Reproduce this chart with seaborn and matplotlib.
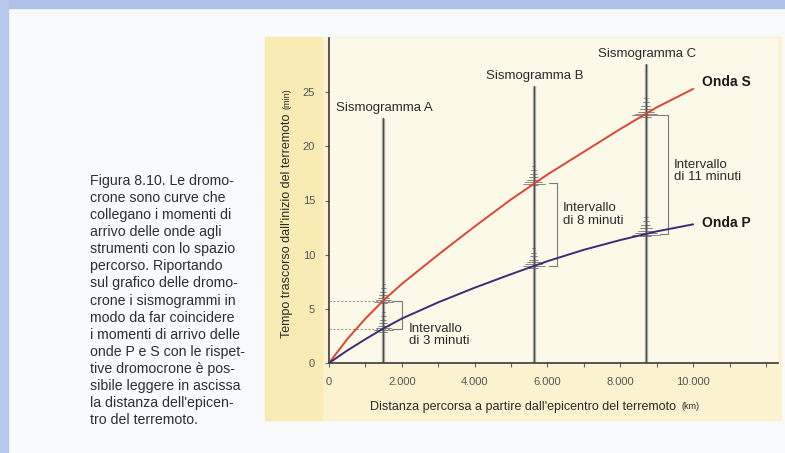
import matplotlib
matplotlib.use("Agg")
import matplotlib.pyplot as plt
import pandas as pd
import seaborn as sns
from matplotlib.patches import Rectangle

# dromocrone (km, minutes)
distance_km = [0, 500, 1000, 1500, 2000, 3000, 4000, 5000, 6000, 7000, 8000, 9000, 10000]
onda_s_min = [0, 2.2, 4.1, 5.8, 7.3, 10.0, 12.6, 15.1, 17.4, 19.5, 21.6, 23.6, 25.3]
onda_p_min = [0, 1.15, 2.2, 3.2, 4.1, 5.6, 6.95, 8.2, 9.4, 10.45, 11.35, 12.15, 12.8]

# seismograms placed on the curves
seismo_names = ["Sismogramma A", "Sismogramma B", "Sismogramma C"]
seismo_km = [1490, 5620, 8700]
seismo_top_min = [22.6, 25.6, 27.6]
p_arrival_min = [3.1, 9.0, 11.9]
s_arrival_min = [5.7, 16.6, 22.9]
interval_labels = ["Intervallo\ndi 3 minuti", "Intervallo\ndi 8 minuti", "Intervallo\ndi 11 minuti"]

x_ticks_km = [0, 2000, 4000, 6000, 8000, 10000]
x_tick_labels = ["0", "2.000", "4.000", "6.000", "8.000", "10.000"]
x_minor_km = [1000, 3000, 5000, 7000, 9000, 11000, 12000]
y_ticks_min = [0, 5, 10, 15, 20, 25]

caption = ("Figura 8.10. Le dromo-\ncrone sono curve che\ncollegano i momenti di\n"
           "arrivo delle onde agli\nstrumenti con lo spazio\npercorso. Riportando\n"
           "sul grafico delle dromo-\ncrone i sismogrammi in\nmodo da far coincidere\n"
           "i momenti di arrivo delle\nonde P e S con le rispet-\ntive dromocrone è pos-\n"
           "sibile leggere in ascissa\nla distanza dell'epicen-\ntro del terremoto.")

# styling
S_COLOR = "#dc4634"
P_COLOR = "#3a2d78"
TRACE = "#5e5e5e"
W, H = 785, 453

sns.set_theme(style="white")
plt.rcParams["font.family"] = ["Liberation Sans", "DejaVu Sans"]

fig = plt.figure(figsize=(W / 100, H / 100), dpi=100, facecolor="#f8fafc")

def fig_rect(x0, y0, x1, y1, color):
    # pixel box (top-left origin) -> figure fraction rectangle
    fig.patches.append(Rectangle((x0 / W, 1 - y1 / H), (x1 - x0) / W, (y1 - y0) / H,
                                 transform=fig.transFigure, color=color, zorder=-5))

fig_rect(0, 0, W, 8, "#aec2e8")
fig_rect(0, 0, 8, H, "#b6c8ea")
fig_rect(265, 37, 781, 420, "#fbf3d0")
fig_rect(265, 37, 322, 420, "#f8ebb4")

ax = fig.add_axes([329 / W, 1 - 363 / H, 449 / W, 325 / H])
ax.set_facecolor("#fdf9e8")

df = pd.DataFrame({
    "km": distance_km * 2,
    "min": onda_s_min + onda_p_min,
    "onda": ["S"] * len(distance_km) + ["P"] * len(distance_km),
})
sns.lineplot(data=df, x="km", y="min", hue="onda", palette={"S": S_COLOR, "P": P_COLOR},
             linewidth=1.4, legend=False, ax=ax, zorder=4)

# seismogram traces with bursts at the arrivals
burst_offsets = [-0.2, -0.05, 0.1, 0.3, 0.55, 0.85, 1.2, 1.6]
burst_halfwidth = [150, 380, 300, 220, 160, 120, 90, 60]
burst_scale = [0.7, 0.8, 1.0]
for i, x in enumerate(seismo_km):
    ax.plot([x, x], [0, seismo_top_min[i]], color="#ababab", lw=2.4, zorder=2, solid_capstyle="butt")
    ax.plot([x, x], [0, seismo_top_min[i]], color="#4a4a4a", lw=0.8, zorder=3)
    for t0 in (p_arrival_min[i], s_arrival_min[i]):
        for off, hw in zip(burst_offsets, burst_halfwidth):
            w = hw * burst_scale[i]
            ax.plot([x - w, x + w], [t0 + off, t0 + off], color=TRACE, lw=0.6, alpha=0.85, zorder=3)
    ax.text(x + 40, seismo_top_min[i] + 0.9, seismo_names[i], ha="center", va="center",
            fontsize=9.5, color="#2a2a2a")

# interval brackets
bracket_km = [2000, 6270, 9310]
text_pos = [(2200, 2.6), (6430, 13.7), (9480, 17.7)]
for i, bx in enumerate(bracket_km):
    top, bot = s_arrival_min[i], p_arrival_min[i]
    ax.plot([bx - 230, bx, bx, bx - 230], [top, top, bot, bot], color="#7a7a7a", lw=0.8, zorder=3)
    ax.text(text_pos[i][0], text_pos[i][1], interval_labels[i], ha="left", va="center",
            fontsize=9.5, color="#2a2a2a", linespacing=1.05)
ax.plot([0, bracket_km[0]], [s_arrival_min[0]] * 2, color="#9a9a9a", lw=0.8, ls=(0, (2, 1.5)), zorder=1)
ax.plot([0, bracket_km[0]], [p_arrival_min[0]] * 2, color="#9a9a9a", lw=0.8, ls=(0, (2, 1.5)), zorder=1)

ax.text(10250, 25.9, "Onda S", fontsize=10, fontweight="bold", color="#1a1a1a", va="center")
ax.text(10250, 12.9, "Onda P", fontsize=10, fontweight="bold", color="#1a1a1a", va="center")

ax.set_xlim(0, 12330)
ax.set_ylim(0, 30)
ax.set_xticks(x_ticks_km, x_tick_labels)
ax.set_xticks(x_minor_km, minor=True)
ax.set_yticks(y_ticks_min, [str(v) for v in y_ticks_min])
ax.tick_params(axis="both", which="both", direction="out", length=3, width=0.8,
               colors="#666666", labelsize=8, labelcolor="#555555", pad=7)
ax.tick_params(axis="x", which="both", bottom=True)
ax.tick_params(axis="y", left=True)
for side in ("top", "right"):
    ax.spines[side].set_visible(False)
for side in ("left", "bottom"):
    ax.spines[side].set_color("#3a3a3a")
    ax.spines[side].set_linewidth(1.2)
ax.set_xlabel("")
ax.set_ylabel("")

ylab = ax.text(-0.0935, 0.077, "Tempo trascorso dall'inizio del terremoto", rotation=90,
               transform=ax.transAxes, ha="center", va="bottom", fontsize=9, color="#2a2a2a")
ax.annotate("(min)", xy=(0.5, 1), xycoords=ylab, xytext=(0, 3), textcoords="offset points",
            rotation=90, ha="center", va="bottom", fontsize=6.5, color="#2a2a2a")
xlab = ax.text(0.092, -0.135, "Distanza percorsa a partire dall'epicentro del terremoto",
               transform=ax.transAxes, ha="left", va="center", fontsize=9, color="#2a2a2a")
ax.annotate("(km)", xy=(1, 0.5), xycoords=xlab, xytext=(4, 0), textcoords="offset points",
            ha="left", va="center", fontsize=6.5, color="#2a2a2a")

fig.text(90 / W, 1 - 174 / H, caption, ha="left", va="top", fontsize=10.2,
         color="#2e2e2e", linespacing=1.28)

fig.savefig("out.png", dpi=100, facecolor=fig.get_facecolor())
